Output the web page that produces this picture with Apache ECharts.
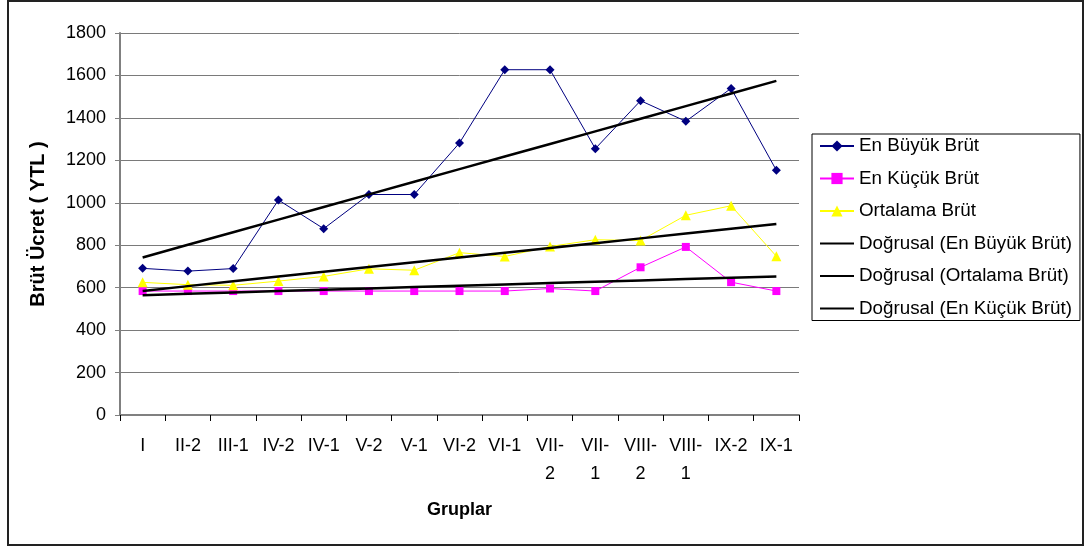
<!DOCTYPE html>
<html>
<head>
<meta charset="utf-8">
<script src="https://cdn.jsdelivr.net/npm/echarts@6/dist/echarts.min.js"></script>
<style>
  html, body { margin: 0; padding: 0; background: #fff; }
  #chart { width: 1086px; height: 547px; }
</style>
</head>
<body>
<div id="chart"></div>
<script>
// gruplar (x ekseni)
var gruplar = ['I', 'II-2', 'III-1', 'IV-2', 'IV-1', 'V-2', 'V-1', 'VI-2', 'VI-1', 'VII-2', 'VII-1', 'VIII-2', 'VIII-1', 'IX-2', 'IX-1'];
// brüt ücretler (YTL)
var enBuyuk = [691, 678, 690, 1013, 878, 1039, 1039, 1282, 1627, 1627, 1255, 1481, 1384, 1539, 1153];
var enKucuk = [584, 584, 584, 584, 584, 584, 584, 584, 584, 596, 584, 696, 792, 626, 584];
var ortalama = [625, 614, 611, 631, 653, 689, 682, 765, 747, 794, 826, 822, 941, 986, 748];
var yTicks = [0, 200, 400, 600, 800, 1000, 1200, 1400, 1600, 1800];

// Excel "Doğrusal" eğilim çizgisi = en küçük kareler doğrusu
function dogrusal(vals) {
    var n = vals.length, sx = 0, sy = 0, sxx = 0, sxy = 0;
    for (var i = 0; i < n; i++) {
        var x = i + 1;
        sx += x; sy += vals[i]; sxx += x * x; sxy += x * vals[i];
    }
    var b = (n * sxy - sx * sy) / (n * sxx - sx * sx);
    var a = (sy - b * sx) / n;
    return vals.map(function (v, i) { return +(a + b * (i + 1)).toFixed(2); });
}

function trendSeries(name, vals) {
    return {
        name: name,
        type: 'line',
        data: dogrusal(vals),
        symbol: 'circle',
        showSymbol: false,
        color: '#000',
        itemStyle: { opacity: 0 },
        lineStyle: { width: 2.5, color: '#000' },
        z: 4
    };
}

var font = 'Liberation Sans, Arial, sans-serif';
var chart = echarts.init(document.getElementById('chart'));
var option = {
    animation: false,
    backgroundColor: '#fff',
    textStyle: { fontFamily: font },
    graphic: [
        {
            type: 'rect',
            shape: { x: 8, y: 1, width: 1075, height: 544 },
            style: { fill: 'none', stroke: '#222', lineWidth: 2 },
            silent: true
        }
    ],
    grid: {
        left: 120,
        right: 287,
        top: 33,
        bottom: 132
    },
    legend: {
        orient: 'vertical',
        left: 812,
        top: 134,
        padding: [2, 8, 2, 7],
        itemGap: 12.5,
        itemWidth: 34,
        itemHeight: 14,
        borderColor: '#000',
        borderWidth: 1,
        textStyle: { fontSize: 18.8, color: '#000', fontFamily: font, lineHeight: 20 },
        data: ['En Büyük Brüt', 'En Küçük Brüt', 'Ortalama Brüt',
            'Doğrusal (En Büyük Brüt)', 'Doğrusal (Ortalama Brüt)', 'Doğrusal (En Küçük Brüt)']
    },
    xAxis: {
        type: 'category',
        data: gruplar,
        boundaryGap: true,
        name: 'Gruplar',
        nameLocation: 'middle',
        nameGap: 86,
        nameTextStyle: { fontSize: 18, fontWeight: 'bold', color: '#000', fontFamily: font },
        axisLine: { lineStyle: { color: '#808080', width: 2 } },
        axisTick: { show: true, length: 6, lineStyle: { color: '#000', width: 1 } },
        axisLabel: {
            fontSize: 18,
            color: '#000',
            margin: 17,
            lineHeight: 28,
            interval: 0,
            formatter: function (v) {
                return /^VII/.test(v) ? v.replace('-', '-\n') : v;
            }
        },
        splitLine: { show: false }
    },
    yAxis: {
        type: 'value',
        min: yTicks[0],
        max: yTicks[yTicks.length - 1],
        interval: yTicks[1] - yTicks[0],
        name: 'Brüt Ücret ( YTL )',
        nameLocation: 'middle',
        nameGap: 72,
        nameTextStyle: { fontSize: 20, fontWeight: 'bold', color: '#000', fontFamily: font },
        axisLine: { show: true, lineStyle: { color: '#808080', width: 2 } },
        axisTick: { show: true, length: 5, lineStyle: { color: '#808080', width: 1 } },
        axisLabel: {
            fontSize: 18,
            color: '#000',
            margin: 14,
            formatter: function (v) { return String(v); }
        },
        splitLine: { show: true, lineStyle: { color: '#7a7a7a', width: 1 } }
    },
    series: [
        {
            name: 'En Büyük Brüt',
            type: 'line',
            data: enBuyuk,
            symbol: 'diamond',
            symbolSize: 9,
            color: '#000080',
            lineStyle: { width: 1, color: '#000080' },
            itemStyle: { color: '#000080' },
            z: 3
        },
        {
            name: 'En Küçük Brüt',
            type: 'line',
            data: enKucuk,
            symbol: 'rect',
            symbolSize: 8,
            color: '#FF00FF',
            lineStyle: { width: 1, color: '#FF00FF' },
            itemStyle: { color: '#FF00FF' },
            z: 3
        },
        {
            name: 'Ortalama Brüt',
            type: 'line',
            data: ortalama,
            symbol: 'triangle',
            symbolSize: 10,
            color: '#FFFF00',
            lineStyle: { width: 1, color: '#FFFF00' },
            itemStyle: { color: '#FFFF00' },
            z: 3
        },
        trendSeries('Doğrusal (En Büyük Brüt)', enBuyuk),
        trendSeries('Doğrusal (Ortalama Brüt)', ortalama),
        trendSeries('Doğrusal (En Küçük Brüt)', enKucuk)
    ]
};
chart.setOption(option);
window.addEventListener('resize', function () {
    chart.resize();
});
</script>
</body>
</html>
